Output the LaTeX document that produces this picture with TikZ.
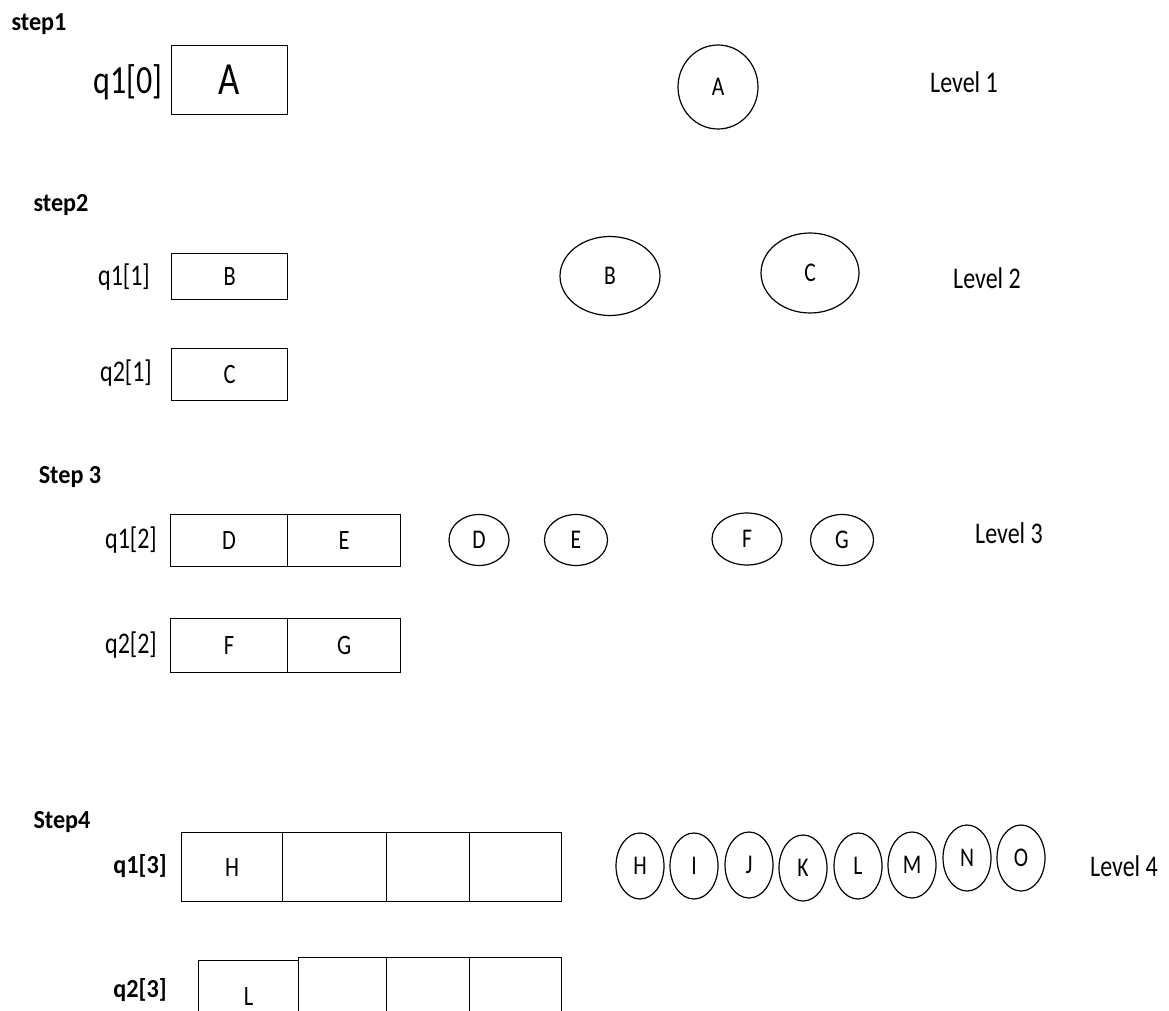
\documentclass[tikz,border=0pt]{standalone}
\usepackage{fontspec}
\setmainfont[FakeStretch=0.8]{Carlito}
\newfontfamily\stepfont[FakeStretch=0.93]{Carlito}
\usetikzlibrary{shapes.geometric}

\begin{document}
\begin{tikzpicture}[x=1pt,y=-1pt]
\tikzset{
  cellbox/.style={draw=black,line width=1.2pt,inner sep=0pt,anchor=north west,font=\fontsize{28}{30}\selectfont},
  treenode/.style={ellipse,draw=black,line width=1.2pt,inner sep=0pt,font=\fontsize{27}{29}\selectfont},
  leafnode/.style={treenode,minimum width=48pt,minimum height=66pt},
  steplabel/.style={inner sep=0pt,font=\stepfont\bfseries\fontsize{26}{28}\selectfont},
  qlabel/.style={inner sep=0pt,font=\fontsize{30}{32}\selectfont},
  levellabel/.style={inner sep=0pt,font=\fontsize{30}{32}\selectfont}
}
\clip (0,0) rectangle (1169,1011);
\useasboundingbox (0,0) rectangle (1169,1011);
% step 1
\node[steplabel] (s1) at (39,24) {step1};
\node[qlabel,font=\fontsize{40}{42}\selectfont] (q10) at (128,82) {q1[0]};
\node[cellbox,minimum width=116pt,minimum height=69pt,font=\fontsize{46}{48}\selectfont] (c10) at (171,45) {A};
\node[treenode,minimum width=80pt,minimum height=84pt] (t_A) at (718,87) {A};
\node[levellabel] (lv1) at (964,82) {Level 1};
% step 2
\node[steplabel] (s2) at (61,205) {step2};
\node[qlabel] (q11) at (124,277) {q1[1]};
\node[cellbox,minimum width=116pt,minimum height=46pt] (c11) at (171,253) {B};
\node[qlabel] (q21) at (126,373) {q2[1]};
\node[cellbox,minimum width=116pt,minimum height=52pt] (c21) at (171,348) {C};
\node[treenode,minimum width=100pt,minimum height=79pt] (t_B) at (610,276) {B};
\node[treenode,minimum width=98pt,minimum height=80pt] (t_C) at (810,273) {C};
\node[levellabel] (lv2) at (987,278) {Level 2};
% step 3
\node[steplabel] (s3) at (70,477) {Step 3};
\node[qlabel] (q12) at (131,540) {q1[2]};
\node[cellbox,minimum width=117pt,minimum height=52pt] (c12a) at (170,514) {D};
\node[cellbox,minimum width=113pt,minimum height=52pt] (c12b) at (287,514) {E};
\node[qlabel] (q22) at (131,645) {q2[2]};
\node[cellbox,minimum width=117pt,minimum height=54pt] (c22a) at (170,618) {F};
\node[cellbox,minimum width=113pt,minimum height=54pt] (c22b) at (287,618) {G};
\node[treenode,minimum width=60pt,minimum height=51pt] (t_D) at (479,540) {D};
\node[treenode,minimum width=63pt,minimum height=51pt] (t_E) at (576,540) {E};
\node[treenode,minimum width=70pt,minimum height=52pt] (t_F) at (747,539) {F};
\node[treenode,minimum width=63pt,minimum height=51pt] (t_G) at (842,540) {G};
\node[levellabel] (lv3) at (1009,533) {Level 3};
% step 4
\node[steplabel] (s4) at (62,822) {Step4};
\node[steplabel] (q13) at (140,866) {q1[3]};
\node[cellbox,minimum width=101pt,minimum height=69pt] (c13a) at (181,832) {H};
\node[cellbox,minimum width=104pt,minimum height=69pt] (c13b) at (282,832) {};
\node[cellbox,minimum width=83pt,minimum height=69pt] (c13c) at (386,832) {};
\node[cellbox,minimum width=92pt,minimum height=69pt] (c13d) at (469,832) {};
\node[steplabel] (q23) at (140,990) {q2[3]};
\node[cellbox,minimum width=100pt,minimum height=72pt] (c23a) at (198,960) {L};
\node[cellbox,minimum width=88pt,minimum height=75pt] (c23b) at (298,957) {};
\node[cellbox,minimum width=83pt,minimum height=75pt] (c23c) at (386,957) {};
\node[cellbox,minimum width=92pt,minimum height=75pt] (c23d) at (469,957) {};
\node[leafnode] (t_H) at (640,866) {H};
\node[leafnode] (t_I) at (694,866) {I};
\node[leafnode] (t_J) at (749,865) {J};
\node[leafnode] (t_K) at (803,868) {K};
\node[leafnode] (t_L) at (858,866) {L};
\node[leafnode] (t_M) at (912,865) {M};
\node[leafnode] (t_N) at (967,858) {N};
\node[leafnode] (t_O) at (1021,858) {O};
\node[levellabel] (lv4) at (1124,866) {Level 4};
\end{tikzpicture}
\end{document}
